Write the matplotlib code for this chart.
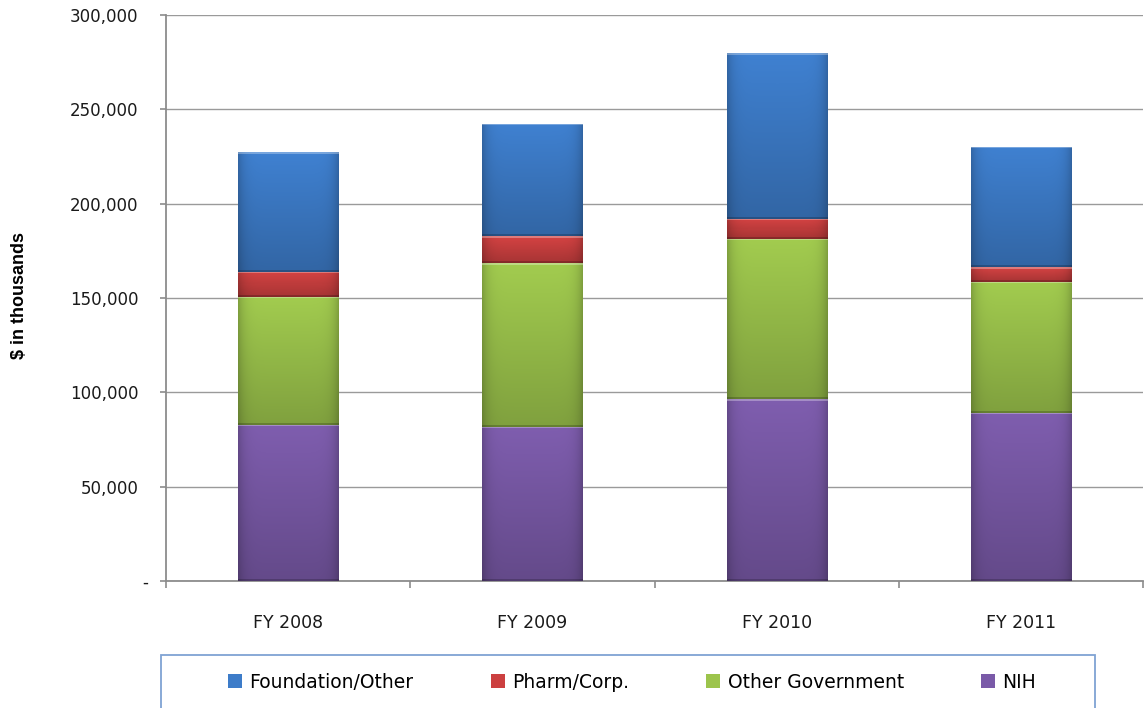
import numpy as np
import matplotlib
matplotlib.use('Agg')
import matplotlib.pyplot as plt
from matplotlib.colors import to_rgb
from matplotlib.patches import Rectangle
import matplotlib.transforms as mtransforms

# ---- data ($ in thousands) ----
categories = ['FY 2008', 'FY 2009', 'FY 2010', 'FY 2011']
nih = [82700, 81800, 96300, 89200]
other_government = [68000, 86700, 84900, 69500]
pharm_corp = [13300, 14100, 10700, 7900]
foundation_other = [63600, 59700, 87900, 63700]

series_names = ['NIH', 'Other Government', 'Pharm/Corp.', 'Foundation/Other']
series_colors = ['#7a5aa8', '#9cc44c', '#cc4040', '#3d7cc9']
y_ticks = [0, 50000, 100000, 150000, 200000, 250000, 300000]
y_tick_labels = ['-', '50,000', '100,000', '150,000', '200,000', '250,000', '300,000']

W, H = 1145, 708
fig = plt.figure(figsize=(W / 100, H / 100), dpi=100)
ax = fig.add_axes([166 / W, 1 - 581 / H, (1143 - 166) / W, (581 - 15) / H])
ax.set_xlim(-0.5, 3.5)
ax.set_ylim(0, 300000)

x = np.arange(len(categories))
bar_w = 0.41
series = [nih, other_government, pharm_corp, foundation_other]


def gradient_fill(ax, patch, color):
    r, g, b = to_rgb(color)
    x0, y0 = patch.get_x(), patch.get_y()
    w, h = patch.get_width(), patch.get_height()
    # pixel height of this segment
    p0 = ax.transData.transform((x0, y0))
    p1 = ax.transData.transform((x0 + w, y0 + h))
    ny = max(int(round(abs(p1[1] - p0[1]))), 4)
    nx = max(int(round(abs(p1[0] - p0[0]))), 4)
    yy = np.linspace(1, 0, ny)[:, None]   # 1 at top
    xx = np.linspace(-1, 1, nx)[None, :]
    fy = 0.82 + 0.22 * yy
    fx = 1.0 - 0.2 * np.abs(xx) ** 8
    f = fy * fx
    img = np.zeros((ny, nx, 3))
    for i, c in enumerate((r, g, b)):
        v = c * f
        v[:2, :] = v[:2, :] + 0.3 * (1 - v[:2, :])   # light top bevel
        v[-2:, :] = v[-2:, :] * 0.8                   # dark bottom bevel
        img[:, :, i] = np.clip(v, 0, 1)
    im = ax.imshow(img, extent=(x0, x0 + w, y0, y0 + h), aspect='auto',
                   interpolation='nearest', zorder=patch.get_zorder() + 0.1)
    im.set_clip_path(patch)


bottom = np.zeros(len(categories))
for vals, name, col in zip(series, series_names, series_colors):
    bars = ax.bar(x, vals, bar_w, bottom=bottom, color=col, label=name,
                  linewidth=0.0, zorder=3)
    for p in bars:
        gradient_fill(ax, p, col)
    bottom += np.array(vals)

ax.set_xlim(-0.5, 3.5)
ax.set_ylim(0, 300000)

# grid and spines
ax.set_yticks(y_ticks)
ax.set_yticklabels(y_tick_labels, fontsize=12, family='DejaVu Sans', color='#1a1a1a')
ax.yaxis.grid(True, color='#9a9a9a', linewidth=1.0, zorder=0)
ax.set_axisbelow(True)
for s in ['top', 'right']:
    ax.spines[s].set_visible(False)
for s in ['left', 'bottom']:
    ax.spines[s].set_color('#8c8c8c')
    ax.spines[s].set_linewidth(1.3)
ax.tick_params(axis='y', length=4, width=1.2, color='#8c8c8c', pad=16)

ax.set_xticks(x)
ax.set_xticklabels(categories, fontsize=12.5, family='DejaVu Sans', color='#1a1a1a')
ax.set_xticks(np.arange(-0.5, 4.0, 1.0), minor=True)
ax.tick_params(axis='x', which='major', length=0, pad=24)
ax.tick_params(axis='x', which='minor', length=5, width=1.2, color='#8c8c8c')

# shift the zero label "-" right like Excel accounting format
offset = mtransforms.ScaledTranslation(10 / 100, 0, fig.dpi_scale_trans)
lbl0 = ax.get_yticklabels()[0]
lbl0.set_transform(lbl0.get_transform() + offset)

fig.text(20 / W, 1 - 296 / H, '$ in thousands', rotation=90, fontsize=13,
         fontweight='bold', family='Liberation Sans', ha='center', va='center')

# legend
handles, labels = ax.get_legend_handles_labels()
order = [3, 2, 1, 0]
leg = fig.legend([handles[i] for i in order], [labels[i] for i in order],
                 loc='center', bbox_to_anchor=(632 / W, 1 - 682 / H), ncol=4,
                 frameon=False, prop={'family': 'DejaVu Sans', 'size': 13.5},
                 handlelength=0.75, handleheight=0.75, handletextpad=0.4,
                 columnspacing=4.1)
fig.patches.append(Rectangle((161 / W, -0.02), (1095 - 161) / W, (708 - 655) / H + 0.02,
                             transform=fig.transFigure, fill=False,
                             edgecolor='#7fa3d3', linewidth=1.3))

fig.savefig('out.png', dpi=100)
